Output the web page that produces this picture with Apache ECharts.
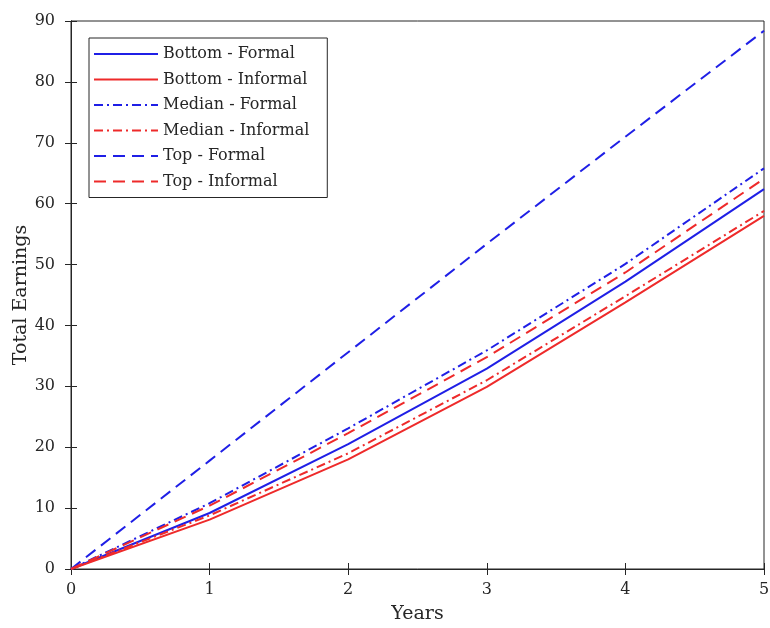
<!DOCTYPE html>
<html>
<head>
<meta charset="utf-8">
<script src="https://cdn.jsdelivr.net/npm/echarts@6/dist/echarts.min.js"></script>
<style>html,body{margin:0;padding:0;background:#fff}#c{width:770px;height:628px}</style>
</head>
<body>
<div id="c"></div>
<script>
const years = [0, 1, 2, 3, 4, 5];
const bottomFormal   = [0, 9.2, 20.5, 32.9, 47.2, 62.4];
const bottomInformal = [0, 8.1, 18.0, 29.9, 43.8, 58.0];
const medianFormal   = [0, 10.8, 23.1, 35.9, 50.1, 65.8];
const medianInformal = [0, 8.8, 19.0, 31.0, 44.8, 58.8];
const topFormal      = [0, 17.8, 35.6, 53.4, 71.0, 88.4];
const topInformal    = [0, 10.4, 22.3, 34.8, 48.7, 64.1];
const seriesNames = ['Bottom - Formal','Bottom - Informal','Median - Formal','Median - Informal','Top - Formal','Top - Informal'];
const xTicks = [0,1,2,3,4,5];
const yTicks = [0,10,20,30,40,50,60,70,80,90];

const BLUE = '#1f1fe6', RED = '#ee2a2a';
const FONT = 'DejaVu Serif';
const dashDot = [9, 4, 2, 4];
const dash = [12, 7];
function pairs(v){ return years.map((x,i)=>[x, v[i]]); }
function mk(name, data, color, type){
  return { name, type:'line', data: pairs(data), symbol:'none', smooth:false,
    lineStyle:{ color, width:2, type }, itemStyle:{ color }, animation:false };
}
const axisCommon = {
  axisLine:{ lineStyle:{ color:'#262626', width:1 } },
  axisTick:{ inside:true, length:6, lineStyle:{ color:'#262626' } },
  splitLine:{ show:false }
};
const chart = echarts.init(document.getElementById('c'));
chart.setOption({
  backgroundColor:'#fff',
  animation:false,
  grid:{ left:71, right:6, top:21, bottom:59, containLabel:false, outerBoundsMode:'none',
         show:true, borderColor:'#262626', borderWidth:1 },
  legend:{
    orient:'vertical', left:89, top:38, itemWidth:64, itemHeight:14, itemGap:9.5,
    padding:[8,18,8,4], borderColor:'#262626', borderWidth:1, backgroundColor:'#fff',
    itemStyle:{ opacity:0 },
    textStyle:{ fontFamily:FONT, fontSize:16, color:'#262626' },
    data: seriesNames
  },
  xAxis:[{
    type:'value', min:xTicks[0], max:xTicks[xTicks.length-1], interval:1,
    name:'Years', nameLocation:'middle', nameGap:36, nameMoveOverlap:false,
    nameTextStyle:{ fontFamily:FONT, fontSize:19, color:'#262626' },
    axisLabel:{ fontFamily:FONT, fontSize:16, color:'#262626', margin:13 },
    ...axisCommon
  },{
    type:'value', position:'top', min:xTicks[0], max:xTicks[xTicks.length-1], interval:1,
    axisLabel:{ show:false }, ...axisCommon
  }],
  yAxis:[{
    type:'value', min:yTicks[0], max:yTicks[yTicks.length-1], interval:10,
    name:'Total Earnings', nameLocation:'middle', nameGap:40, nameMoveOverlap:false,
    nameTextStyle:{ fontFamily:FONT, fontSize:19, color:'#262626' },
    axisLabel:{ fontFamily:FONT, fontSize:16, color:'#262626', margin:16 },
    ...axisCommon
  },{
    type:'value', position:'right', min:yTicks[0], max:yTicks[yTicks.length-1], interval:10,
    axisLabel:{ show:false }, ...axisCommon
  }],
  series:[
    mk(seriesNames[0], bottomFormal, BLUE, 'solid'),
    mk(seriesNames[1], bottomInformal, RED, 'solid'),
    mk(seriesNames[2], medianFormal, BLUE, dashDot),
    mk(seriesNames[3], medianInformal, RED, dashDot),
    mk(seriesNames[4], topFormal, BLUE, dash),
    mk(seriesNames[5], topInformal, RED, dash)
  ]
});
</script>
</body>
</html>
